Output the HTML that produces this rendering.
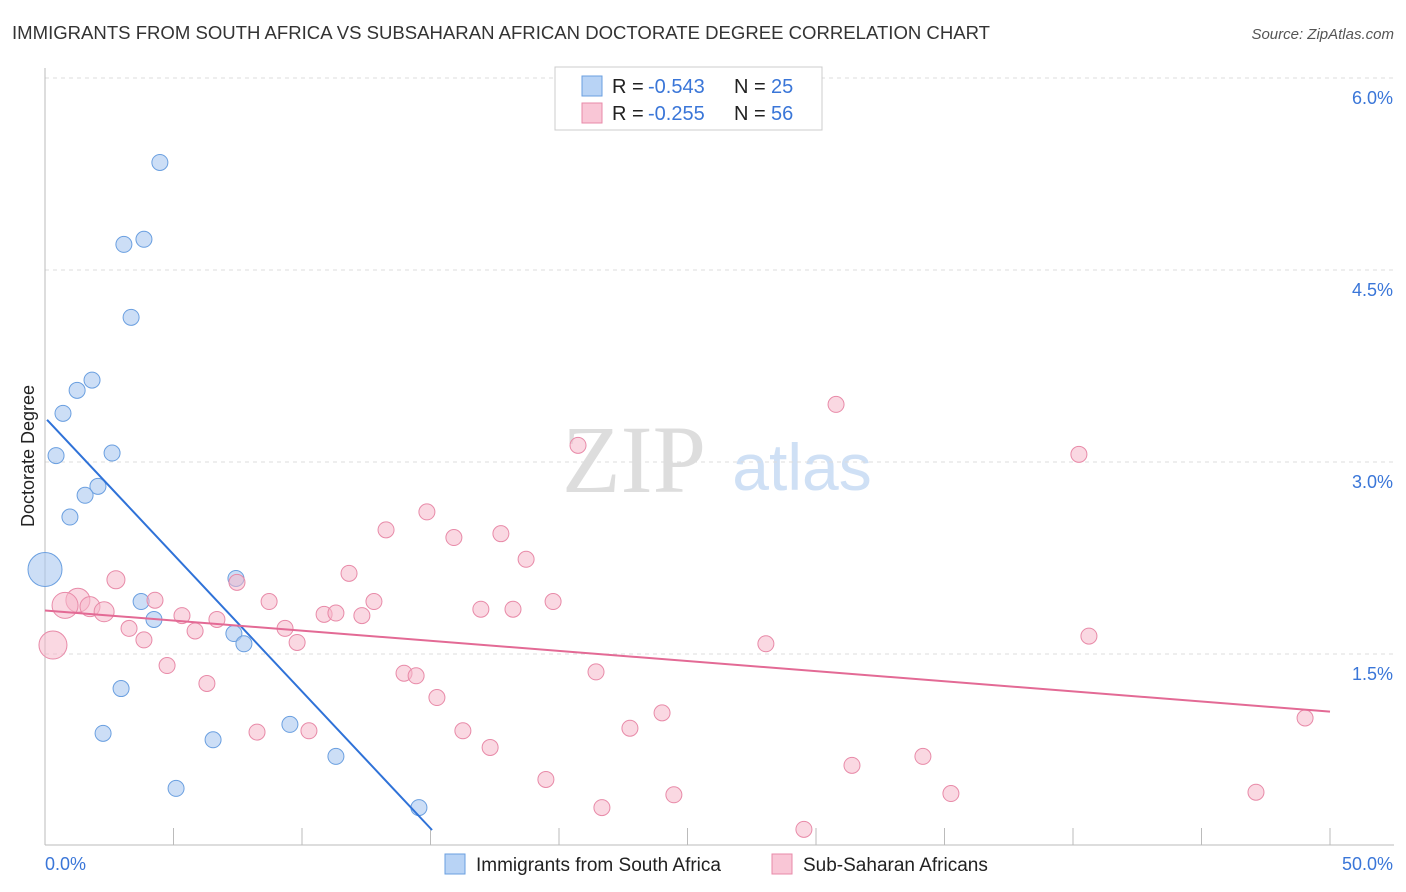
<!DOCTYPE html>
<html><head><meta charset="utf-8"><style>
body{margin:0;background:#fff;font-family:"Liberation Sans",sans-serif;}
#wrap{position:relative;width:1406px;height:892px;overflow:hidden;}
</style></head><body>
<div id="wrap">
<svg id="svg" width="1406" height="892" xmlns="http://www.w3.org/2000/svg">
<text x="12" y="39" font-size="18" fill="#333" textLength="978" lengthAdjust="spacingAndGlyphs">IMMIGRANTS FROM SOUTH AFRICA VS SUBSAHARAN AFRICAN DOCTORATE DEGREE CORRELATION CHART</text>
<text x="1394" y="39" font-size="15" fill="#555" font-style="italic" text-anchor="end">Source: ZipAtlas.com</text>
<text x="634" y="492" font-size="96" fill="#ddd" font-family="Liberation Serif,serif" text-anchor="middle">ZIP</text>
<text x="802" y="490" font-size="66" fill="#cfe0f5" text-anchor="middle">atlas</text>
<text transform="translate(34,456) rotate(-90)" font-size="18" fill="#222" text-anchor="middle">Doctorate Degree</text>
<g id="grid"></g><g id="ticks"></g><g id="pts"></g><g id="lines"></g>
<g>
<rect x="555" y="67" width="267" height="63" fill="#fff" stroke="#ccc"/>
<rect x="582" y="76" width="20" height="20" fill="#b8d3f5" stroke="#6a9fe0"/>
<rect x="582" y="103" width="20" height="20" fill="#f9c6d6" stroke="#e88aa8"/>
<text x="612" y="93" font-size="20" fill="#222">R =</text>
<text x="648" y="93" font-size="20" fill="#3a76d8">-0.543</text>
<text x="734" y="93" font-size="20" fill="#222">N =</text>
<text x="771" y="93" font-size="20" fill="#3a76d8">25</text>
<text x="612" y="120" font-size="20" fill="#222">R =</text>
<text x="648" y="120" font-size="20" fill="#3a76d8">-0.255</text>
<text x="734" y="120" font-size="20" fill="#222">N =</text>
<text x="771" y="120" font-size="20" fill="#3a76d8">56</text>
</g>
<g>
<rect x="445" y="854" width="20" height="20" fill="#b8d3f5" stroke="#6a9fe0"/>
<text x="476" y="871" font-size="19" fill="#222">Immigrants from South Africa</text>
<rect x="772" y="854" width="20" height="20" fill="#f9c6d6" stroke="#e88aa8"/>
<text x="803" y="871" font-size="19" fill="#222">Sub-Saharan Africans</text>
</g>
</svg>
</div>
<script>
const yTicks=[1.5,3.0,4.5,6.0];
const yTickLabels=["1.5%","3.0%","4.5%","6.0%"];
const xTickLabels=["0.0%","50.0%"];
const blueX=[4.47,3.07,3.85,3.35,1.83,1.25,0.70,0.43,2.61,2.06,1.56,0.97,0,7.43,3.74,4.24,7.35,7.74,2.96,2.26,6.54,9.53,11.32,5.10,14.55];
const blueY=[5.34,4.70,4.74,4.13,3.64,3.56,3.38,3.05,3.07,2.81,2.74,2.57,2.16,2.09,1.91,1.77,1.66,1.58,1.23,0.88,0.83,0.95,0.70,0.45,0.30];
const blueR=[8,8,8,8,8,8,8,8,8,8,8,8,17,8,8,8,8,8,8,8,8,8,8,8,8];
const pinkX=[20.74,30.78,40.23,14.86,13.27,15.91,17.74,18.72,2.76,11.83,7.47,1.28,0.78,1.75,2.30,4.28,5.33,6.69,8.72,12.80,19.77,16.96,18.21,10.86,11.32,12.33,3.27,5.84,9.34,3.85,9.81,0.31,28.05,40.62,4.75,13.97,14.44,21.44,6.30,15.25,24.01,49.03,8.25,10.27,16.26,22.76,17.32,34.16,31.40,19.49,35.25,47.12,24.47,21.67,29.53];
const pinkY=[3.13,3.45,3.06,2.61,2.47,2.41,2.44,2.24,2.08,2.13,2.06,1.92,1.88,1.87,1.83,1.92,1.80,1.77,1.91,1.91,1.91,1.85,1.85,1.81,1.82,1.80,1.70,1.68,1.70,1.61,1.59,1.57,1.58,1.64,1.41,1.35,1.33,1.36,1.27,1.16,1.04,1.00,0.89,0.90,0.90,0.92,0.77,0.70,0.63,0.52,0.41,0.42,0.40,0.30,0.13];
const pinkR=[8,8,8,8,8,8,8,8,9,8,8,12,13,10,10,8,8,8,8,8,8,8,8,8,8,8,8,8,8,8,8,14,8,8,8,8,8,8,8,8,8,8,8,8,8,8,8,8,8,8,8,8,8,8,8];
const blueTrend=[0.08,3.33,15.06,0.125];
const pinkTrend=[0,1.84,50,1.05];
const X0=45,X1=1330,YB=846,YPX=128;
function sx(v){return X0+v*(X1-X0)/50;}
function sy(v){return YB-v*YPX;}
const NS="http://www.w3.org/2000/svg";
function mk(tag,attrs,parent){const e=document.createElementNS(NS,tag);for(const k in attrs)e.setAttribute(k,attrs[k]);document.getElementById(parent).appendChild(e);return e;}
yTicks.forEach((t,i)=>{
 const l=mk('line',{x1:45,x2:1394,y1:sy(t),y2:sy(t),stroke:'#ddd','stroke-dasharray':'4,4'},'grid');
 
 
 const tx=mk('text',{x:1393,y:sy(t)+26,'font-size':18,fill:'#3a76d8','text-anchor':'end'},'grid');
 tx.textContent=yTickLabels[i];
 
 
});
const ax=mk('line',{x1:45,x2:45,y1:68,y2:845,stroke:'#bbb'},'ticks');


const bx=mk('line',{x1:45,x2:1394,y1:845,y2:845,stroke:'#bbb'},'ticks');


for(let i=1;i<=10;i++){
 const t=mk('line',{x1:sx(i*5),x2:sx(i*5),y1:828,y2:845,stroke:'#bbb'},'ticks');
 
 
}
[[0,45,'start'],[50,1393,'end']].forEach((d,i)=>{
 const tx=mk('text',{x:d[1],y:870,'font-size':18,fill:'#3a76d8','text-anchor':d[2]},'ticks');
 tx.textContent=xTickLabels[i];
 
 
});
blueX.forEach((v,i)=>{
 const c=mk('circle',{cx:sx(v),cy:sy(blueY[i]),r:blueR[i],fill:'rgba(170,200,240,0.6)',stroke:'#6a9fe0','stroke-width':1},'pts');
 
 
});
pinkX.forEach((v,i)=>{
 const c=mk('circle',{cx:sx(v),cy:sy(pinkY[i]),r:pinkR[i],fill:'rgba(246,184,203,0.55)',stroke:'#e88aa8','stroke-width':1},'pts');
 
 
});
const bl=mk('line',{x1:sx(blueTrend[0]),y1:sy(blueTrend[1]),x2:sx(blueTrend[2]),y2:sy(blueTrend[3]),stroke:'#2f72d8','stroke-width':2},'lines');


const pl=mk('line',{x1:sx(pinkTrend[0]),y1:sy(pinkTrend[1]),x2:sx(pinkTrend[2]),y2:sy(pinkTrend[3]),stroke:'#e36a95','stroke-width':2},'lines');


</script>
</body></html>
